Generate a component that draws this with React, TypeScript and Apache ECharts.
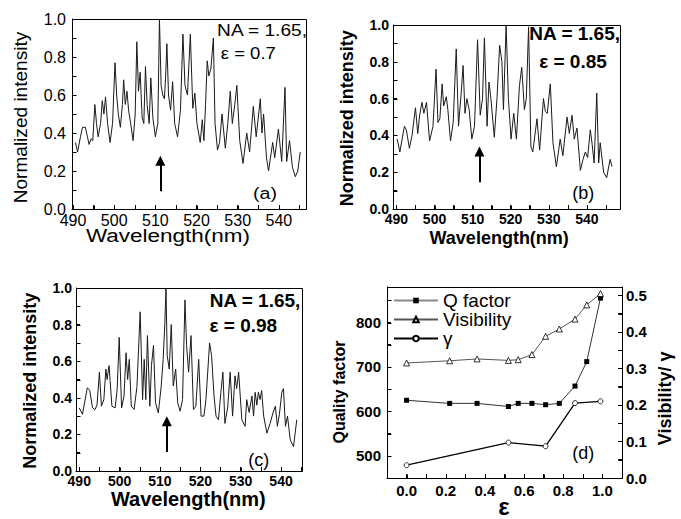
import React, { useEffect, useRef } from 'react';
import * as echarts from 'echarts';

const FONT = '"Liberation Sans", Arial, Helvetica, sans-serif';

// ---------- tick values ----------
const wavelengthLabels = [490, 500, 510, 520, 530, 540];
const wavelengthTicks = [490, 495, 500, 505, 510, 515, 520, 525, 530, 535, 540, 545];
const intensityLabels = [0, 0.2, 0.4, 0.6, 0.8, 1.0];
const intensityTicks = [0, 0.1, 0.2, 0.3, 0.4, 0.5, 0.6, 0.7, 0.8, 0.9, 1.0];
const epsLabels = [0, 0.2, 0.4, 0.6, 0.8, 1.0];
const epsTicks = [0, 0.1, 0.2, 0.3, 0.4, 0.5, 0.6, 0.7, 0.8, 0.9, 1.0];
const qLabels = [500, 600, 700, 800];
const qTicks = [450, 500, 550, 600, 650, 700, 750, 800, 850];
const visLabels = [0, 0.1, 0.2, 0.3, 0.4, 0.5];
const visTicks = [0, 0.05, 0.1, 0.15, 0.2, 0.25, 0.3, 0.35, 0.4, 0.45, 0.5];

// ---------- spectra [wavelength nm, normalized intensity] ----------
const specA = [
  [490.6, 0.35], [491.1, 0.30], [491.8, 0.38], [492.3, 0.43], [493.0, 0.43], [493.5, 0.38], [493.9, 0.34],
  [494.4, 0.37], [494.8, 0.36], [495.3, 0.55], [495.7, 0.45], [496.1, 0.38], [496.7, 0.45], [497.1, 0.57],
  [497.5, 0.50], [497.9, 0.59], [498.4, 0.45], [499.0, 0.35], [499.6, 0.45], [500.2, 0.77], [500.6, 0.60],
  [501.0, 0.50], [501.5, 0.43], [502.0, 0.55], [502.3, 0.68], [502.7, 0.55], [503.1, 0.62], [503.5, 0.52],
  [504.0, 0.45], [504.6, 0.36], [505.1, 0.50], [505.5, 0.88], [505.9, 0.62], [506.3, 0.72], [506.8, 0.48],
  [507.2, 0.45], [507.6, 0.75], [508.0, 0.55], [508.5, 0.45], [508.9, 0.69], [509.4, 0.48], [510.0, 0.38],
  [510.6, 0.45], [511.0, 1.0], [511.4, 0.65], [511.8, 0.60], [512.2, 0.58], [512.5, 0.70], [512.8, 0.87],
  [513.2, 0.60], [513.7, 0.52], [514.2, 0.67], [514.7, 0.45], [515.4, 0.38], [516.1, 0.52], [516.7, 0.92],
  [517.2, 0.65], [517.8, 0.60], [518.5, 0.92], [519.1, 0.53], [519.6, 0.61], [520.1, 0.45], [520.9, 0.35],
  [521.4, 0.47], [521.8, 0.36], [522.2, 0.55], [522.6, 0.78], [523.0, 0.70], [523.5, 0.74], [524.1, 0.90],
  [524.5, 0.45], [525.1, 0.31], [525.6, 0.35], [526.2, 0.50], [527.0, 0.32], [527.6, 0.45], [528.2, 0.62],
  [528.7, 0.45], [529.3, 0.55], [529.8, 0.65], [530.5, 0.36], [531.3, 0.24], [532.2, 0.40], [532.9, 0.30],
  [533.8, 0.54], [534.5, 0.38], [535.5, 0.58], [535.9, 0.40], [536.3, 0.50], [537.0, 0.27], [537.5, 0.20],
  [538.5, 0.35], [539.0, 0.27], [539.9, 0.42], [540.7, 0.25], [541.5, 0.64], [541.9, 0.25], [542.6, 0.36],
  [543.3, 0.22], [544.0, 0.17], [544.6, 0.20], [545.2, 0.30],
];

const specB = [
  [490.2, 0.38], [490.9, 0.31], [492.1, 0.45], [492.6, 0.43], [493.4, 0.33], [494.1, 0.40], [495.0, 0.55],
  [495.6, 0.41], [496.1, 0.51], [496.7, 0.58], [497.2, 0.52], [497.9, 0.58], [498.7, 0.37], [499.6, 0.45],
  [500.4, 0.76], [500.9, 0.47], [501.4, 0.49], [502.0, 0.68], [502.4, 0.56], [503.1, 0.61], [503.5, 0.54],
  [504.2, 0.37], [504.9, 0.47], [505.7, 0.87], [506.3, 0.45], [507.0, 0.63], [507.5, 0.78], [508.0, 0.52],
  [508.5, 0.60], [509.1, 0.54], [509.8, 0.38], [510.5, 0.45], [511.3, 0.92], [512.0, 0.51], [512.6, 0.60],
  [513.1, 0.93], [513.8, 0.45], [514.3, 0.69], [514.8, 0.60], [515.7, 0.39], [516.4, 0.60], [517.1, 0.89],
  [517.7, 0.80], [518.1, 0.54], [518.8, 1.0], [519.4, 0.60], [520.1, 0.38], [520.8, 0.52], [521.5, 0.38],
  [522.3, 0.67], [522.9, 0.77], [523.6, 0.54], [524.1, 0.60], [524.7, 0.99], [525.3, 0.34], [525.8, 0.31],
  [526.9, 0.49], [527.6, 0.32], [528.6, 0.60], [529.1, 0.53], [529.6, 0.52], [530.4, 0.68], [531.1, 0.36],
  [532.0, 0.23], [533.0, 0.38], [533.7, 0.29], [534.8, 0.50], [535.4, 0.41], [536.1, 0.51], [536.7, 0.38],
  [537.4, 0.44], [538.3, 0.21], [539.0, 0.27], [539.6, 0.31], [540.2, 0.28], [540.9, 0.43], [541.4, 0.35],
  [541.9, 0.25], [542.6, 0.63], [543.1, 0.25], [543.5, 0.36], [544.4, 0.20], [545.2, 0.17], [546.1, 0.27],
  [546.6, 0.23],
];

const specC = [
  [490.0, 0.345], [490.8, 0.31], [492.0, 0.455], [492.6, 0.44], [493.3, 0.345], [493.9, 0.335], [494.4, 0.36],
  [495.0, 0.54], [495.5, 0.354], [496.1, 0.39], [496.6, 0.557], [496.9, 0.50], [497.4, 0.576], [498.1, 0.354],
  [498.9, 0.345], [499.4, 0.446], [499.9, 0.73], [500.5, 0.345], [501.1, 0.41], [501.6, 0.646], [502.0, 0.50],
  [502.4, 0.61], [502.9, 0.354], [503.6, 0.336], [504.3, 0.46], [505.1, 0.87], [505.7, 0.39], [506.1, 0.61],
  [506.5, 0.39], [506.9, 0.74], [507.5, 0.354], [507.9, 0.576], [508.4, 0.686], [508.9, 0.373], [509.6, 0.317],
  [510.3, 0.46], [510.8, 0.61], [511.2, 0.80], [511.5, 1.0], [511.8, 0.63], [512.3, 0.557], [512.8, 0.80],
  [513.3, 0.465], [513.9, 0.557], [514.4, 0.373], [515.0, 0.327], [515.6, 0.39], [516.2, 0.935], [516.6, 0.686],
  [517.1, 0.54], [517.7, 0.74], [518.3, 0.336], [518.9, 0.354], [519.6, 0.61], [520.2, 0.30], [520.9, 0.30],
  [521.4, 0.39], [522.3, 0.70], [522.8, 0.63], [523.4, 0.41], [523.9, 0.30], [524.5, 0.28], [525.1, 0.43],
  [525.6, 0.54], [526.1, 0.26], [526.8, 0.35], [527.4, 0.54], [528.0, 0.30], [528.6, 0.52], [529.0, 0.45],
  [529.5, 0.54], [530.3, 0.28], [531.1, 0.244], [531.5, 0.39], [532.1, 0.32], [532.8, 0.41], [533.2, 0.30],
  [533.6, 0.43], [534.0, 0.36], [534.4, 0.43], [534.8, 0.39], [535.2, 0.44], [535.7, 0.30], [536.5, 0.207],
  [537.3, 0.26], [538.0, 0.317], [538.6, 0.354], [539.1, 0.244], [539.6, 0.31], [540.2, 0.43], [540.6, 0.45],
  [541.1, 0.244], [541.6, 0.30], [542.3, 0.17], [543.1, 0.133], [543.9, 0.28],
];

// ---------- panel (d) ----------
const epsValues = [0, 0.22, 0.36, 0.52, 0.57, 0.64, 0.71, 0.78, 0.86, 0.92, 0.99];
const qFactor = [625, 618, 618, 611, 618, 618, 615, 618, 657, 712, 855];
const visibility = [0.315, 0.321, 0.326, 0.322, 0.324, 0.338, 0.388, 0.408, 0.435, 0.474, 0.505];
const gammaEps = [0, 0.52, 0.71, 0.86, 0.99];
const gammaValues = [0.035, 0.097, 0.087, 0.205, 0.21];

// arrows marking the 512 nm mode: [wavelength, from, to]
const arrowA = [511.2, 0.093, 0.254];
const arrowB = [511.8, 0.145, 0.313];
const arrowC = [511.7, 0.104, 0.272];

const X_RANGES = [[489.75, 546.6], [489.1, 548.7], [489.2, 545.2], [-0.1, 1.1]];
const Q_RANGE = [450, 880];
const V_RANGE = [0, 0.523];
const GRIDS = [
  { left: 72, top: 19, width: 234, height: 190 },
  { left: 393, top: 25, width: 227, height: 184 },
  { left: 76, top: 288, width: 226, height: 183 },
  { left: 387, top: 287, width: 235, height: 191 },
];

const LINE = { show: true, onZero: false, lineStyle: { color: '#000', width: 1 } };
const fix1 = (v: number) => v.toFixed(1);

function axis(grid: number, min: number, max: number, ticks: number[], labels: number[], font: any, margin: number, fmt?: (v: number) => string, extra: any = {}) {
  return {
    type: 'value', gridIndex: grid, min, max,
    axisLine: LINE,
    axisTick: { show: true, inside: true, length: 4, customValues: ticks, lineStyle: { color: '#000' } },
    axisLabel: { customValues: labels, color: '#000', fontFamily: FONT, margin, ...font, ...(fmt ? { formatter: fmt } : {}) },
    splitLine: { show: false },
    ...extra,
  };
}

function spectrum(idx: number, data: number[][], arrow: number[]) {
  return {
    type: 'line', xAxisIndex: idx, yAxisIndex: idx, data,
    symbol: 'none', showSymbol: false,
    lineStyle: { color: '#1a1a1a', width: 1 },
    markLine: {
      silent: true, symbol: ['none', 'triangle'], symbolSize: 10, label: { show: false },
      lineStyle: { color: '#000', width: 2, type: 'solid' }, emphasis: { disabled: true },
      data: [[{ coord: [arrow[0], arrow[1]] }, { coord: [arrow[0], arrow[2]] }]],
    },
  };
}

function txt(text: string, x: number, y: number, size: number, o: any = {}) {
  const align = o.align || 'center';
  return {
    type: 'text', x, y, silent: true,
    rotation: o.rot ? Math.PI / 2 : 0,
    scaleX: o.sx || 1,
    style: {
      text, fontSize: size, fontFamily: FONT, fontWeight: o.bold ? 'bold' : 'normal', fill: '#000',
      align, textAlign: align, verticalAlign: 'middle', textVerticalAlign: 'middle',
    },
  };
}

const SVG_NS = 'http://www.w3.org/2000/svg';

// Draws each panel's frame and its inward ticks on an overlay, placing the ticks
// through the chart's own axis scales (convertToPixel).
function drawFrames(chart: any, svg: SVGSVGElement) {
  while (svg.firstChild) svg.removeChild(svg.firstChild);
  const crisp = (v: number) => Math.round(v) + 0.5;
  const seg = (x1: number, y1: number, x2: number, y2: number) => {
    const l = document.createElementNS(SVG_NS, 'line');
    l.setAttribute('x1', String(x1)); l.setAttribute('y1', String(y1));
    l.setAttribute('x2', String(x2)); l.setAttribute('y2', String(y2));
    l.setAttribute('stroke', '#000'); l.setAttribute('stroke-width', '1');
    svg.appendChild(l);
  };
  const px = (xi: number, yi: number, p: number[]) => chart.convertToPixel({ xAxisIndex: xi, yAxisIndex: yi }, p) as number[];
  const TL = 4;

  GRIDS.forEach((g, i) => {
    const L = g.left + 0.5, T = g.top + 0.5, R = g.left + g.width + 0.5, B = g.top + g.height + 0.5;
    seg(L, T, R, T); seg(R, T, R, B); seg(R, B, L, B); seg(L, B, L, T);
    if (i < 3) {
      wavelengthTicks.forEach((t) => { const x = crisp(px(i, i, [t, 0])[0]); seg(x, B, x, B - TL); });
      intensityTicks.forEach((v) => { const y = crisp(px(i, i, [X_RANGES[i][0], v])[1]); seg(L, y, L + TL, y); });
    } else {
      epsTicks.forEach((t) => { const x = crisp(px(3, 3, [t, Q_RANGE[0]])[0]); seg(x, B, x, B - TL); });
      qTicks.forEach((v) => { const y = crisp(px(3, 3, [X_RANGES[3][0], v])[1]); seg(L, y, L + TL, y); });
      visTicks.forEach((v) => { const y = crisp(px(3, 4, [X_RANGES[3][1], v])[1]); seg(R, y, R - TL, y); });
    }
  });
}

export default function App() {
  const ref = useRef<HTMLDivElement>(null);
  const overlay = useRef<SVGSVGElement>(null);
  useEffect(() => {
    if (!ref.current) return;
    const chart = echarts.init(ref.current, null, { renderer: 'svg', width: 681, height: 519 });
    const fontA = { fontSize: 16 };
    const fontBC = { fontSize: 14, fontWeight: 'bold' };
    const fontD = { fontSize: 15, fontWeight: 'bold' };

    const option: any = {
      animation: false,
      textStyle: { fontFamily: FONT },
      grid: GRIDS.map((g) => ({ ...g })),
      xAxis: [
        axis(0, X_RANGES[0][0], X_RANGES[0][1], wavelengthTicks, wavelengthLabels, fontA, 3),
        axis(1, X_RANGES[1][0], X_RANGES[1][1], wavelengthTicks, wavelengthLabels, fontBC, 3),
        axis(2, X_RANGES[2][0], X_RANGES[2][1], wavelengthTicks, wavelengthLabels, fontBC, 3),
        axis(3, X_RANGES[3][0], X_RANGES[3][1], epsTicks, epsLabels, fontD, 5, fix1),
      ],
      yAxis: [
        axis(0, 0, 1, intensityTicks, intensityLabels, fontA, 6, fix1),
        axis(1, 0, 1, intensityTicks, intensityLabels, fontBC, 4, fix1),
        axis(2, 0, 1, intensityTicks, intensityLabels, fontBC, 4, fix1),
        axis(3, Q_RANGE[0], Q_RANGE[1], qTicks, qLabels, fontD, 6, undefined, { position: 'left' }),
        axis(3, V_RANGE[0], V_RANGE[1], visTicks, visLabels, fontD, 4, fix1, { position: 'right' }),
      ],
      legend: {
        data: [
          { name: 'Q factor', lineStyle: { color: '#888' } },
          { name: 'Visibility' },
          { name: 'γ' },
        ],
        orient: 'vertical', left: 393, top: 291, padding: 0,
        itemWidth: 44, itemHeight: 7, itemGap: 0,
        selectedMode: false,
        textStyle: { fontSize: 19, lineHeight: 19, fontFamily: FONT, color: '#000' },
      },
      series: [
        spectrum(0, specA, arrowA),
        spectrum(1, specB, arrowB),
        spectrum(2, specC, arrowC),
        {
          name: 'Q factor', type: 'line', xAxisIndex: 3, yAxisIndex: 3,
          data: epsValues.map((e, i) => [e, qFactor[i]]),
          symbol: 'rect', symbolSize: 5,
          itemStyle: { color: '#000' },
          lineStyle: { color: '#333', width: 1 },
        },
        {
          name: 'Visibility', type: 'line', xAxisIndex: 3, yAxisIndex: 4,
          data: epsValues.map((e, i) => [e, visibility[i]]),
          symbol: 'triangle', symbolSize: 6,
          itemStyle: { color: '#fff', borderColor: '#000', borderWidth: 0.8 },
          lineStyle: { color: '#555', width: 1 },
        },
        {
          name: 'γ', type: 'line', xAxisIndex: 3, yAxisIndex: 4,
          data: gammaEps.map((e, i) => [e, gammaValues[i]]),
          symbol: 'circle', symbolSize: 5,
          itemStyle: { color: '#fff', borderColor: '#000', borderWidth: 0.8 },
          lineStyle: { color: '#000', width: 1.3 },
        },
      ],
      graphic: [
        // panel (a)
        txt('Normalized intensity', 20.7, 117.5, 18, { rot: true, sx: 1.06 }),
        txt('Wavelength(nm)', 168, 236, 18, { sx: 1.25 }),
        txt('NA = 1.65,', 307, 30.7, 16.5, { align: 'right', sx: 1.16 }),
        txt('ε = 0.7', 248.3, 53.3, 16.5, { sx: 1.12 }),
        txt('(a)', 265, 193.3, 17, { sx: 1.15 }),
        // panel (b)
        txt('Normalized intensity', 347, 118.3, 18, { rot: true, bold: true }),
        txt('Wavelength(nm)', 499.2, 237.5, 18, { bold: true }),
        txt('NA = 1.65,', 574.7, 33.3, 19, { bold: true }),
        txt('ε = 0.85', 573, 61.7, 19, { bold: true }),
        txt('(b)', 583.3, 193.3, 18),
        // panel (c)
        txt('Normalized intensity', 30, 380.8, 18, { rot: true, bold: true }),
        txt('Wavelength(nm)', 188.3, 499, 20, { bold: true }),
        txt('NA = 1.65,', 255, 300, 19, { bold: true }),
        txt('ε = 0.98', 243.3, 325, 19, { bold: true }),
        txt('(c)', 258.7, 460, 18),
        // panel (d)
        txt('Quality factor', 339, 392, 16, { rot: true, bold: true }),
        txt('ε', 504, 506, 24, { bold: true }),
        txt('Visibility/ γ', 665, 398.3, 18, { rot: true, bold: true }),
        txt('(d)', 583.3, 452.7, 18),
      ],
    };
    chart.setOption(option);
    if (overlay.current) {
      try { drawFrames(chart, overlay.current); } catch (e) { /* overlay is decorative */ }
    }
    return () => chart.dispose();
  }, []);
  return (
    <div style={{ position: 'absolute', left: 0, top: 0, width: 681, height: 519, background: '#fff' }}>
      <div ref={ref} style={{ position: 'absolute', left: 0, top: 0, width: 681, height: 519 }} />
      <svg
        ref={overlay}
        width={681}
        height={519}
        style={{ position: 'absolute', left: 0, top: 0, pointerEvents: 'none', zIndex: 2 }}
      />
    </div>
  );
}
